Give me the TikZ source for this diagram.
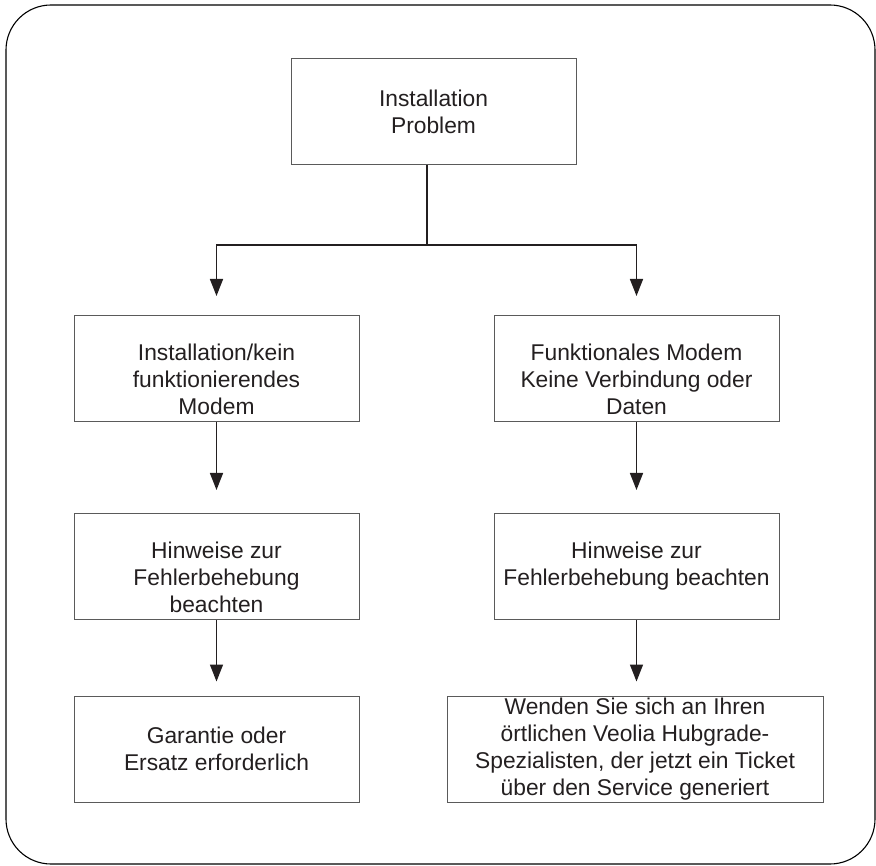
\documentclass[tikz,border=0pt]{standalone}
\usepackage{fontspec}
\setmainfont{Liberation Sans}
\usetikzlibrary{arrows.meta,positioning}
\definecolor{ink}{HTML}{231F20}
\definecolor{boxline}{HTML}{5A5A5A}

\begin{document}
\begin{tikzpicture}[x=1pt,y=-1pt,
  font=\fontsize{22.8}{27}\selectfont, text=ink,
  box/.style={draw=boxline, line width=1pt, inner sep=0pt, minimum width=285pt,
    minimum height=106pt, align=center},
  txt/.style={align=center, inner sep=0pt, text=ink},
  conn/.style={draw=ink, line width=1.5pt},
  arr/.style={conn, -{Triangle[length=17pt,width=13pt]}}]
  \useasboundingbox (0,0) rectangle (876,866);
  \draw[line width=1.1pt, rounded corners=45pt] (6,5) rectangle (875,864);
  % boxes
  \node[box] (top) at (433.5,112) {Installation\\Problem};
  \node[box, label={[txt,yshift=-11pt]center:{Installation/kein\\funktionierendes\\Modem}}] (l1) at (216.5,368.5) {};
  \node[box, label={[txt,yshift=-11pt]center:{Funktionales Modem\\Keine Verbindung oder\\Daten}}] (r1) at (636.5,368.5) {};
  \node[box, label={[txt,yshift=-11pt]center:{Hinweise zur\\Fehlerbehebung\\beachten}}] (l2) at (216.5,566.5) {};
  \node[box] (r2) at (636.5,566.5) {Hinweise zur\\Fehlerbehebung beachten};
  \node[box] (l3) at (216.5,749) {Garantie oder\\Ersatz erforderlich};
  \node[box, minimum width=376pt] (r3) at (635,749) {Wenden Sie sich an Ihren\\örtlichen Veolia Hubgrade-\\Spezialisten, der jetzt ein Ticket\\über den Service generiert};
  % connectors
  \coordinate (split) at (427,245);
  \draw[conn] (top.south -| split) -- (split);
  \draw[arr, shorten >=19pt] (split) -| (l1.north);
  \draw[arr, shorten >=19pt] (split) -| (r1.north);
  \draw[arr, shorten >=23pt] (l1.south) -- (l2.north);
  \draw[arr, shorten >=23pt] (r1.south) -- (r2.north);
  \draw[arr, shorten >=14pt] (l2.south) -- (l3.north);
  \draw[arr, shorten >=14pt] (r2.south) -- (r2.south |- r3.north);
\end{tikzpicture}
\end{document}
